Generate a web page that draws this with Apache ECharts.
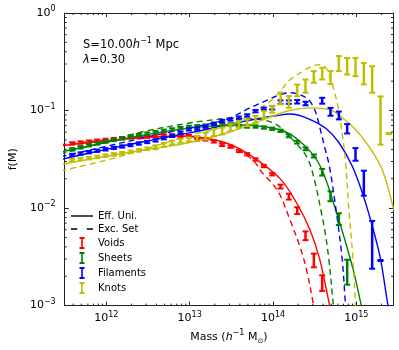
<!DOCTYPE html>
<html>
<head>
<meta charset="utf-8">
<script src="https://cdn.jsdelivr.net/npm/echarts@6/dist/echarts.min.js"></script>
<style>
html, body { margin: 0; padding: 0; background: #fff; }
#main { width: 399px; height: 350px; }
</style>
</head>
<body>
<div id="main"></div>
<script>
// bin centres, log10 of mass
var logM = [11.59, 11.69, 11.79, 11.89, 11.99, 12.09, 12.19, 12.29, 12.39, 12.49,
            12.59, 12.69, 12.79, 12.89, 12.99, 13.09, 13.19, 13.29, 13.39, 13.49,
            13.59, 13.69, 13.79, 13.89, 13.99, 14.09, 14.19, 14.29, 14.39, 14.49,
            14.59, 14.69, 14.79, 14.89, 14.99, 15.09, 15.19, 15.29, 15.39];

// measured f(M) per environment, errors in dex
var voids = [0.046, 0.047, 0.048, 0.049, 0.050, 0.051, 0.052, 0.053, 0.0535, 0.054,
             0.055, 0.0555, 0.0555, 0.055, 0.0547, 0.0527, 0.0506, 0.0483, 0.0445, 0.0426,
             0.0385, 0.0356, 0.0315, 0.027, 0.0222, 0.0166, 0.0131, 0.0094, 0.0052, 0.0029,
             0.0017];
var voidsErr = [0.012, 0.012, 0.012, 0.012, 0.012, 0.012, 0.012, 0.012, 0.012, 0.012,
                0.012, 0.012, 0.012, 0.012, 0.012, 0.012, 0.012, 0.012, 0.012, 0.012,
                0.012, 0.012, 0.012, 0.012, 0.012, 0.02, 0.03, 0.035, 0.045, 0.07,
                0.08];
var sheets = [0.040, 0.042, 0.044, 0.046, 0.048, 0.050, 0.052, 0.054, 0.056, 0.058,
              0.060, 0.062, 0.064, 0.066, 0.068, 0.069, 0.070, 0.071, 0.072, 0.072,
              0.0695, 0.0685, 0.0685, 0.067, 0.065, 0.062, 0.055, 0.0474, 0.0405, 0.0342,
              0.0233, 0.0132, 0.0077, 0.0022];
var sheetsErr = [0.012, 0.012, 0.012, 0.012, 0.012, 0.012, 0.012, 0.012, 0.012, 0.012,
                 0.012, 0.012, 0.012, 0.012, 0.012, 0.012, 0.012, 0.012, 0.012, 0.012,
                 0.012, 0.012, 0.012, 0.012, 0.012, 0.012, 0.014, 0.014, 0.015, 0.015,
                 0.034, 0.05, 0.06, 0.128];
var filaments = [0.0350, 0.0362, 0.0374, 0.0387, 0.0400, 0.0414, 0.0428, 0.0443, 0.0459, 0.0476,
                 0.0494, 0.0520, 0.0550, 0.0590, 0.0641, 0.0652, 0.0683, 0.0733, 0.078, 0.081,
                 0.0844, 0.0891, 0.0986, 0.1043, 0.1069, 0.122, 0.122, 0.123, 0.118, null,
                 0.126, 0.097, 0.089, 0.065, 0.0355, 0.018, 0.0042, 0.0029];
var filamentsErr = [0.012, 0.012, 0.012, 0.012, 0.012, 0.012, 0.012, 0.012, 0.012, 0.012,
                    0.012, 0.012, 0.012, 0.012, 0.012, 0.012, 0.012, 0.012, 0.012, 0.012,
                    0.012, 0.012, 0.012, 0.012, 0.018, 0.018, 0.018, 0.018, 0.018, 0,
                    0.03, 0.04, 0.04, 0.048, 0.065, 0.128, 0.245, 0.005];
var knots = [0.0310, 0.0318, 0.0325, 0.0335, 0.0345, 0.0355, 0.0365, 0.0378, 0.0390, 0.0405,
             0.0420, 0.0445, 0.0470, 0.0490, 0.0505, 0.0515, 0.0547, 0.0593, 0.0616, 0.0667,
             0.0721, 0.075, 0.081, 0.091, 0.103, 0.133, 0.1225, 0.1606, 0.178, 0.221,
             0.239, 0.218, 0.303, 0.2845, 0.279, 0.239, 0.208, 0.079, 0.058];
var knotsErr = [0.013, 0.013, 0.013, 0.013, 0.013, 0.013, 0.013, 0.013, 0.013, 0.013,
                0.02, 0.02, 0.02, 0.02, 0.02, 0.025, 0.035, 0.035, 0.035, 0.035,
                0.035, 0.035, 0.035, 0.035, 0.035, 0.06, 0.06, 0.06, 0.068, 0.06,
                0.06, 0.068, 0.077, 0.085, 0.094, 0.11, 0.136, 0.247, 0.005];

// model curves: Eff. Uni. (solid) and Exc. Set (dashed)
var voidsEffM = [11.45, 12.0, 12.5, 12.9, 13.2, 13.5, 13.78, 14.09, 14.28, 14.44, 14.56, 14.68, 14.74];
var voidsEff  = [0.0435, 0.049, 0.053, 0.0548, 0.052, 0.0445, 0.0325, 0.0198, 0.0114, 0.0061, 0.0030, 0.0010, 0.0006];
var voidsExcM = [11.45, 12.0, 12.5, 12.9, 13.2, 13.5, 13.75, 13.87, 14.0, 14.09, 14.2, 14.32, 14.4, 14.48, 14.53];
var voidsExc  = [0.0445, 0.050, 0.054, 0.0545, 0.051, 0.043, 0.0316, 0.0231, 0.0175, 0.0133, 0.0077, 0.0041, 0.00237, 0.00108, 0.0006];

var sheetsEffM = [11.45, 12.0, 12.5, 13.0, 13.3, 13.6, 13.9, 14.18, 14.46, 14.6, 14.775, 14.873, 14.97, 15.06, 15.12];
var sheetsEff  = [0.0375, 0.047, 0.057, 0.066, 0.070, 0.071, 0.068, 0.059, 0.037, 0.0233, 0.0083, 0.0044, 0.0022, 0.0010, 0.0006];
var sheetsExcM = [11.45, 12.0, 12.47, 12.98, 13.16, 13.5, 13.8, 14.0, 14.1, 14.2, 14.32, 14.42, 14.5, 14.58, 14.62, 14.67, 14.72, 14.75];
var sheetsExc  = [0.036, 0.048, 0.0616, 0.074, 0.078, 0.083, 0.082, 0.075, 0.066, 0.054, 0.042, 0.0316, 0.019, 0.009, 0.006, 0.003, 0.0011, 0.0006];

var filEffM = [11.45, 12.0, 12.5, 13.0, 13.5, 13.8, 14.05, 14.2, 14.3, 14.44, 14.64, 14.79, 14.95, 15.07, 15.19, 15.29, 15.38, 15.43];
var filEff  = [0.0315, 0.040, 0.049, 0.059, 0.073, 0.082, 0.089, 0.092, 0.090, 0.0812, 0.065, 0.047, 0.027, 0.0145, 0.0066, 0.0030, 0.0010, 0.0006];
var filExcM = [11.45, 12.0, 12.47, 12.98, 13.44, 13.71, 13.95, 14.05, 14.2, 14.4, 14.5, 14.558, 14.617, 14.676, 14.755, 14.83, 14.87, 14.89];
var filExc  = [0.0335, 0.043, 0.053, 0.066, 0.081, 0.105, 0.130, 0.142, 0.152, 0.135, 0.102, 0.069, 0.043, 0.027, 0.0098, 0.003, 0.001, 0.0006];

var knotEffM = [11.45, 12.0, 12.5, 13.0, 13.5, 13.8, 14.05, 14.2, 14.44, 14.68, 14.83, 14.99, 15.15, 15.31, 15.45];
var knotEff  = [0.028, 0.034, 0.040, 0.047, 0.061, 0.076, 0.091, 0.100, 0.1065, 0.1026, 0.0843, 0.064, 0.043, 0.0249, 0.0095];
var knotExcM = [11.45, 12.0, 12.5, 12.98, 13.5, 13.7, 13.9, 14.05, 14.2, 14.4, 14.5, 14.57, 14.64, 14.70, 14.78, 14.83, 14.87, 14.91, 14.96, 14.99, 15.01];
var knotExc  = [0.024, 0.031, 0.041, 0.055, 0.072, 0.088, 0.113, 0.145, 0.205, 0.265, 0.29, 0.295, 0.27, 0.20, 0.11, 0.058, 0.03, 0.0098, 0.003, 0.001, 0.0006];

var FONT = 'DejaVu Sans';
var RED = '#ff0000', GREEN = '#008000', BLUE = '#0000ff', YEL = '#bfbf00';
var XMIN = Math.pow(10, 11.5), XMAX = Math.pow(10, 15.44);

function points(vals, errs) {
	var out = [];
	for (var i = 0; i < vals.length; i++) {
		if (vals[i] == null) continue;
		var k = Math.pow(10, errs[i]);
		out.push([Math.pow(10, logM[i]), vals[i] / k, vals[i] * k]);
	}
	return out;
}
function curve(ms, vals) {
	return ms.map(function (m, i) { return [Math.pow(10, m), vals[i]]; });
}

function errBar(color) {
	return function (params, api) {
		var x = api.value(0);
		var p0 = api.coord([x, api.value(1)]);
		var p1 = api.coord([x, api.value(2)]);
		var w = 3;
		var cap = { stroke: color, lineWidth: 2 };
		return {
			type: 'group',
			children: [
				{ type: 'line', shape: { x1: p0[0], y1: p0[1], x2: p1[0], y2: p1[1] }, style: { stroke: color, lineWidth: 2.5 } },
				{ type: 'line', shape: { x1: p0[0] - w, y1: p0[1], x2: p0[0] + w, y2: p0[1] }, style: cap },
				{ type: 'line', shape: { x1: p1[0] - w, y1: p1[1], x2: p1[0] + w, y2: p1[1] }, style: cap }
			]
		};
	};
}

// minor ticks at 2..9 of every decade, drawn on all four sides
var xMinor = [], yMinor = [];
for (var d = 11; d <= 15; d++) for (var j = 2; j <= 9; j++) xMinor.push([j * Math.pow(10, d), 0.01]);
for (var d = -3; d <= -1; d++) for (var j = 2; j <= 9; j++) yMinor.push([1e13, j * Math.pow(10, d)]);

function minorX(params, api) {
	var cs = params.coordSys;
	var x = api.coord([api.value(0), 0.01])[0];
	if (x <= cs.x + 0.5 || x >= cs.x + cs.width - 0.5) return;
	var b = cs.y + cs.height, t = cs.y, st = { stroke: '#222', lineWidth: 1 };
	return { type: 'group', children: [
		{ type: 'line', shape: { x1: x, y1: b, x2: x, y2: b - 2 }, style: st },
		{ type: 'line', shape: { x1: x, y1: t, x2: x, y2: t + 2 }, style: st }
	] };
}
function minorY(params, api) {
	var cs = params.coordSys;
	var y = api.coord([1e13, api.value(1)])[1];
	var l = cs.x, r = cs.x + cs.width, st = { stroke: '#222', lineWidth: 1 };
	return { type: 'group', children: [
		{ type: 'line', shape: { x1: l, y1: y, x2: l + 2, y2: y }, style: st },
		{ type: 'line', shape: { x1: r, y1: y, x2: r - 2, y2: y }, style: st }
	] };
}

function powLabel(v) {
	var l = Math.log10(v);
	if (Math.abs(l - Math.round(l)) > 1e-6) return '';
	var e = Math.round(l);
	return '{b|10}{s|' + (e < 0 ? '\u2212' + (-e) : e) + '}';
}
var powRich = {
	b: { fontFamily: FONT, fontSize: 11, color: '#000', lineHeight: 16 },
	s: { fontFamily: FONT, fontSize: 8, color: '#000', lineHeight: 6, verticalAlign: 'top' }
};

function lineSeries(name, ms, vals, color, dashed) {
	return {
		name: name, type: 'line', data: curve(ms, vals), smooth: 0.35,
		showSymbol: false, symbol: 'none', z: 2, silent: true,
		lineStyle: { color: color, width: 1.4, type: dashed ? [6, 4] : 'solid' }
	};
}
function errSeries(name, vals, errs, color) {
	return {
		name: name, type: 'custom', data: points(vals, errs), renderItem: errBar(color),
		itemStyle: { color: color }, z: 4, silent: true, encode: { x: 0, y: [1, 2] }
	};
}

var chart = echarts.init(document.getElementById('main'));
var option = {
	animation: false,
	backgroundColor: '#fff',
	grid: { left: 59, right: 6, top: 13, bottom: 43 },
	xAxis: [{
		type: 'log', min: XMIN, max: XMAX, position: 'bottom',
		name: '{n|Mass (}{i|h}{s|\u22121}{n| M}{sub|\u2299}{n|)}',
		nameLocation: 'middle', nameGap: 20,
		nameTextStyle: { rich: {
			n: { fontFamily: FONT, fontSize: 11, color: '#000', lineHeight: 16 },
			i: { fontFamily: FONT, fontSize: 11, fontStyle: 'italic', color: '#000', lineHeight: 16 },
			s: { fontFamily: FONT, fontSize: 8, color: '#000', lineHeight: 6, verticalAlign: 'top' },
			sub: { fontFamily: FONT, fontSize: 7, color: '#000', lineHeight: 9, verticalAlign: 'bottom' }
		} },
		axisLine: { show: true, lineStyle: { color: '#222', width: 1 } },
		axisTick: { show: true, inside: true, length: 4, lineStyle: { color: '#222' } },
		axisLabel: { formatter: powLabel, rich: powRich, margin: 5, showMinLabel: false, showMaxLabel: false },
		splitLine: { show: false }
	}, {
		type: 'log', min: XMIN, max: XMAX, position: 'top',
		axisLine: { show: true, lineStyle: { color: '#222', width: 1 } },
		axisTick: { show: true, inside: true, length: 4, lineStyle: { color: '#222' } },
		axisLabel: { show: false }, splitLine: { show: false }
	}],
	yAxis: [{
		type: 'log', min: 1e-3, max: 1, position: 'left',
		name: 'f(M)', nameLocation: 'middle', nameGap: 29, nameRotate: 90,
		nameTextStyle: { fontFamily: FONT, fontSize: 11, color: '#000' },
		axisLine: { show: true, lineStyle: { color: '#222', width: 1 } },
		axisTick: { show: true, inside: true, length: 4, lineStyle: { color: '#222' } },
		axisLabel: { formatter: powLabel, rich: powRich, margin: 9 },
		splitLine: { show: false }
	}, {
		type: 'log', min: 1e-3, max: 1, position: 'right',
		axisLine: { show: true, lineStyle: { color: '#222', width: 1 } },
		axisTick: { show: true, inside: true, length: 4, lineStyle: { color: '#222' } },
		axisLabel: { show: false }, splitLine: { show: false }
	}],
	legend: {
		orient: 'vertical', left: 66, top: 206, itemWidth: 22, itemHeight: 12, itemGap: 3,
		selectedMode: false,
		textStyle: { fontFamily: FONT, fontSize: 10, color: '#000' },
		itemStyle: { borderWidth: 0 },
		data: [
			{ name: 'Eff. Uni.', icon: 'path://M0,0H22V1.4H0Z', itemStyle: { color: '#000' } },
			{ name: 'Exc. Set', icon: 'path://M0,0H6V1.4H0Z M15,0H21V1.4H15Z', itemStyle: { color: '#000' } },
			{ name: 'Voids', icon: 'path://M0,0H5V2H3.3V10H5V12H0V10H1.7V2H0Z', itemStyle: { color: RED } },
			{ name: 'Sheets', icon: 'path://M0,0H5V2H3.3V10H5V12H0V10H1.7V2H0Z', itemStyle: { color: GREEN } },
			{ name: 'Filaments', icon: 'path://M0,0H5V2H3.3V10H5V12H0V10H1.7V2H0Z', itemStyle: { color: BLUE } },
			{ name: 'Knots', icon: 'path://M0,0H5V2H3.3V10H5V12H0V10H1.7V2H0Z', itemStyle: { color: YEL } }
		]
	},
	graphic: [
		{ type: 'text', x: 83, y: 45, silent: true, style: {
			text: '{n|S=10.00}{i|h}{s|\u22121}{n| Mpc}', verticalAlign: 'middle',
			rich: {
				n: { fontFamily: FONT, fontSize: 11.5, fill: '#000', lineHeight: 16 },
				i: { fontFamily: FONT, fontSize: 11.5, fontStyle: 'italic', fill: '#000', lineHeight: 16 },
				s: { fontFamily: FONT, fontSize: 8, fill: '#000', lineHeight: 6, verticalAlign: 'top' }
			} } },
		{ type: 'text', x: 83, y: 60, silent: true, style: {
			text: '{i|\u03bb}{n|=0.30}', verticalAlign: 'middle',
			rich: {
				n: { fontFamily: FONT, fontSize: 11.5, fill: '#000', lineHeight: 16 },
				i: { fontFamily: FONT, fontSize: 11.5, fontStyle: 'italic', fill: '#000', lineHeight: 16 }
			} } }
	],
	series: [
		{ name: 'Eff. Uni.', type: 'line', data: [], itemStyle: { color: '#000' }, lineStyle: { color: '#000' } },
		{ name: 'Exc. Set', type: 'line', data: [], itemStyle: { color: '#000' }, lineStyle: { color: '#000', type: 'dashed' } },
		lineSeries('voidsEff', voidsEffM, voidsEff, RED, false),
		lineSeries('voidsExc', voidsExcM, voidsExc, RED, true),
		lineSeries('sheetsEff', sheetsEffM, sheetsEff, GREEN, false),
		lineSeries('sheetsExc', sheetsExcM, sheetsExc, GREEN, true),
		lineSeries('filEff', filEffM, filEff, BLUE, false),
		lineSeries('filExc', filExcM, filExc, BLUE, true),
		lineSeries('knotEff', knotEffM, knotEff, YEL, false),
		lineSeries('knotExc', knotExcM, knotExc, YEL, true),
		errSeries('Voids', voids, voidsErr, RED),
		errSeries('Sheets', sheets, sheetsErr, GREEN),
		errSeries('Filaments', filaments, filamentsErr, BLUE),
		errSeries('Knots', knots, knotsErr, YEL),
		{ name: 'xminor', type: 'custom', data: xMinor, renderItem: minorX, silent: true, z: 5 },
		{ name: 'yminor', type: 'custom', data: yMinor, renderItem: minorY, silent: true, z: 5 }
	]
};
chart.setOption(option);
</script>
</body>
</html>
